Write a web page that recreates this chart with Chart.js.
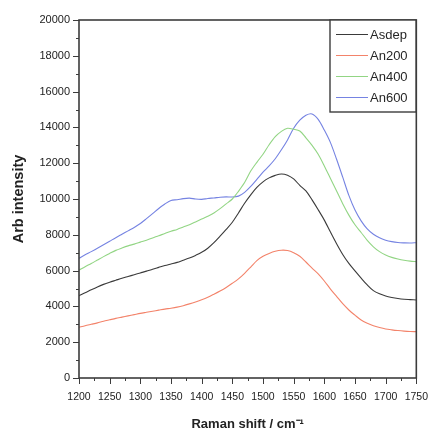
<!DOCTYPE html>
<html>
<head>
<meta charset="utf-8">
<title>Raman spectra</title>
<script src="https://cdn.jsdelivr.net/npm/chart.js@4.4.1/dist/chart.umd.min.js"></script>
<style>
  html, body { margin: 0; padding: 0; background: #fff; }
  .wrap { position: relative; width: 441px; height: 433px; }
</style>
</head>
<body>
<div class="wrap"><canvas id="raman" width="441" height="433"></canvas></div>
<script>
// Raman shift axis (cm-1), sampled every 10
const ramanShift = [
  1200, 1210, 1220, 1230, 1240, 1250, 1260, 1270, 1280, 1290,
  1300, 1310, 1320, 1330, 1340, 1350, 1360, 1370, 1380, 1390,
  1400, 1410, 1420, 1430, 1440, 1450, 1460, 1470, 1480, 1490,
  1500, 1510, 1520, 1530, 1540, 1550, 1560, 1570, 1580, 1590,
  1600, 1610, 1620, 1630, 1640, 1650, 1660, 1670, 1680, 1690,
  1700, 1710, 1720, 1730, 1740, 1750
];

const seriesNames = ["Asdep", "An200", "An400", "An600"];
const seriesColors = ["#3a3a3a", "#f3836a", "#92d584", "#7583e2"];

const asdep = [
  4600, 4760, 4930, 5090, 5230, 5350, 5460, 5570, 5670, 5770,
  5870, 5970, 6080, 6180, 6280, 6370, 6460, 6580, 6700, 6850,
  7020, 7250, 7560, 7920, 8300, 8700, 9220, 9760, 10230, 10650,
  10960, 11180, 11320, 11400, 11330, 11120, 10760, 10450, 9950, 9400,
  8820, 8150, 7500, 6900, 6400, 5980, 5580, 5200, 4880, 4700,
  4580, 4500, 4440, 4400, 4380, 4360
];

const an200 = [
  2830, 2920, 3000, 3080, 3170, 3250, 3330, 3400, 3470, 3540,
  3610, 3670, 3730, 3790, 3850, 3900, 3960, 4040, 4140, 4250,
  4370, 4510, 4680, 4860, 5060, 5290, 5540, 5850, 6200, 6560,
  6800, 6960, 7080, 7140, 7120, 7000, 6800, 6480, 6140, 5820,
  5420, 4970, 4560, 4150, 3800, 3510, 3240, 3060, 2920, 2820,
  2740, 2690, 2650, 2620, 2600, 2590
];

const an400 = [
  6030, 6220, 6400, 6590, 6780, 6960, 7130, 7260, 7380, 7480,
  7590, 7700, 7820, 7950, 8070, 8200, 8300, 8440, 8560, 8720,
  8880, 9040, 9220, 9460, 9730, 10000, 10430, 10920, 11560, 12050,
  12500, 13030, 13480, 13780, 13950, 13900, 13800, 13420, 13000, 12500,
  11850, 11150, 10450, 9740, 9100, 8560, 8130, 7690, 7330, 7060,
  6870, 6740, 6650, 6580, 6530, 6500
];

const an600 = [
  6690, 6880, 7060, 7245, 7440, 7640, 7840, 8030, 8220, 8410,
  8630, 8900, 9180, 9470, 9720, 9920, 9960, 10020, 10050, 10000,
  9980, 10030, 10060, 10100, 10120, 10110, 10160, 10370, 10700, 11100,
  11500, 11850, 12250, 12750, 13300, 13950, 14400, 14680, 14750, 14450,
  13850, 13150, 12220, 11220, 10200, 9380, 8780, 8330, 8030, 7830,
  7700, 7620, 7570, 7550, 7540, 7560
];

const FONT = "'Liberation Sans', Arial, sans-serif";
const AXIS_COLOR = "#3c3c3c";

function pairs(ys) {
  return ramanShift.map((x, i) => ({ x: x, y: ys[i] }));
}

// frame, outward tick marks (major + minor) and boxed legend
const framePlugin = {
  id: "frame",
  afterDatasetsDraw(chart) {
    const { ctx, chartArea: a, scales } = chart;
    ctx.save();
    ctx.strokeStyle = AXIS_COLOR;
    ctx.lineWidth = 1;
    for (let v = 0; v <= 20000; v += 1000) {
      const y = Math.round(scales.y.getPixelForValue(v)) + 0.5;
      const len = v % 2000 === 0 ? 6 : 3;
      ctx.beginPath();
      ctx.moveTo(a.left, y);
      ctx.lineTo(a.left - len, y);
      ctx.stroke();
    }
    for (let v = 1200; v <= 1750; v += 25) {
      const x = Math.round(scales.x.getPixelForValue(v)) + 0.5;
      const len = v % 50 === 0 ? 6 : 3;
      ctx.beginPath();
      ctx.moveTo(x, a.bottom);
      ctx.lineTo(x, a.bottom + len);
      ctx.stroke();
    }
    ctx.lineWidth = 1.6;
    ctx.strokeRect(a.left, a.top, a.right - a.left, a.bottom - a.top);

    // legend
    const w = 86, h = 92;
    const x0 = Math.round(a.right - w), y0 = Math.round(a.top);
    ctx.fillStyle = "#fff";
    ctx.fillRect(x0, y0, w, h);
    ctx.strokeStyle = AXIS_COLOR;
    ctx.lineWidth = 1.4;
    ctx.strokeRect(x0, y0, w, h);
    ctx.font = "13px " + FONT;
    ctx.textBaseline = "middle";
    ctx.textAlign = "left";
    chart.data.datasets.forEach((ds, i) => {
      const y = y0 + 14 + i * 21;
      ctx.strokeStyle = ds.borderColor;
      ctx.lineWidth = 1;
      ctx.beginPath();
      ctx.moveTo(x0 + 6, y + 0.5);
      ctx.lineTo(x0 + 38, y + 0.5);
      ctx.stroke();
      ctx.fillStyle = "#262626";
      ctx.fillText(ds.label, x0 + 40, y + 1);
    });
    ctx.restore();
  }
};

const allSeries = [asdep, an200, an400, an600];

new Chart(document.getElementById("raman"), {
  type: "line",
  data: {
    datasets: allSeries.map((ys, i) => ({
      label: seriesNames[i],
      data: pairs(ys),
      borderColor: seriesColors[i],
      borderWidth: 1.1,
      pointRadius: 0,
      tension: 0.3,
      fill: false
    }))
  },
  options: {
    responsive: false,
    animation: false,
    events: [],
    layout: { padding: { top: 20, right: 13, left: 0, bottom: 0 } },
    plugins: {
      legend: { display: false },
      tooltip: { enabled: false }
    },
    scales: {
      x: {
        type: "linear",
        min: 1200,
        max: 1750,
        afterFit(s) { s.height = 55; },
        grid: { display: false, drawTicks: false },
        border: { display: false },
        ticks: {
          stepSize: 50,
          padding: 13,
          maxRotation: 0,
          autoSkip: false,
          color: "#222",
          font: { family: FONT, size: 10.5 },
          callback: (v) => String(v)
        },
        title: {
          display: true,
          text: "Raman shift / cm\u207B\u00B9",
          color: "#222",
          padding: { top: 0, bottom: 1 },
          font: { family: FONT, size: 13, weight: "bold" }
        }
      },
      y: {
        min: 0,
        max: 20000,
        afterFit(s) { s.width = 79; },
        grid: { display: false, drawTicks: false },
        border: { display: false },
        ticks: {
          stepSize: 2000,
          padding: 9,
          color: "#222",
          font: { family: FONT, size: 11 },
          callback: (v) => String(v)
        },
        title: {
          display: true,
          text: "Arb intensity",
          color: "#222",
          padding: { top: 10, bottom: 0 },
          font: { family: FONT, size: 14.5, weight: "bold" }
        }
      }
    }
  },
  plugins: [framePlugin]
});
</script>
</body>
</html>
